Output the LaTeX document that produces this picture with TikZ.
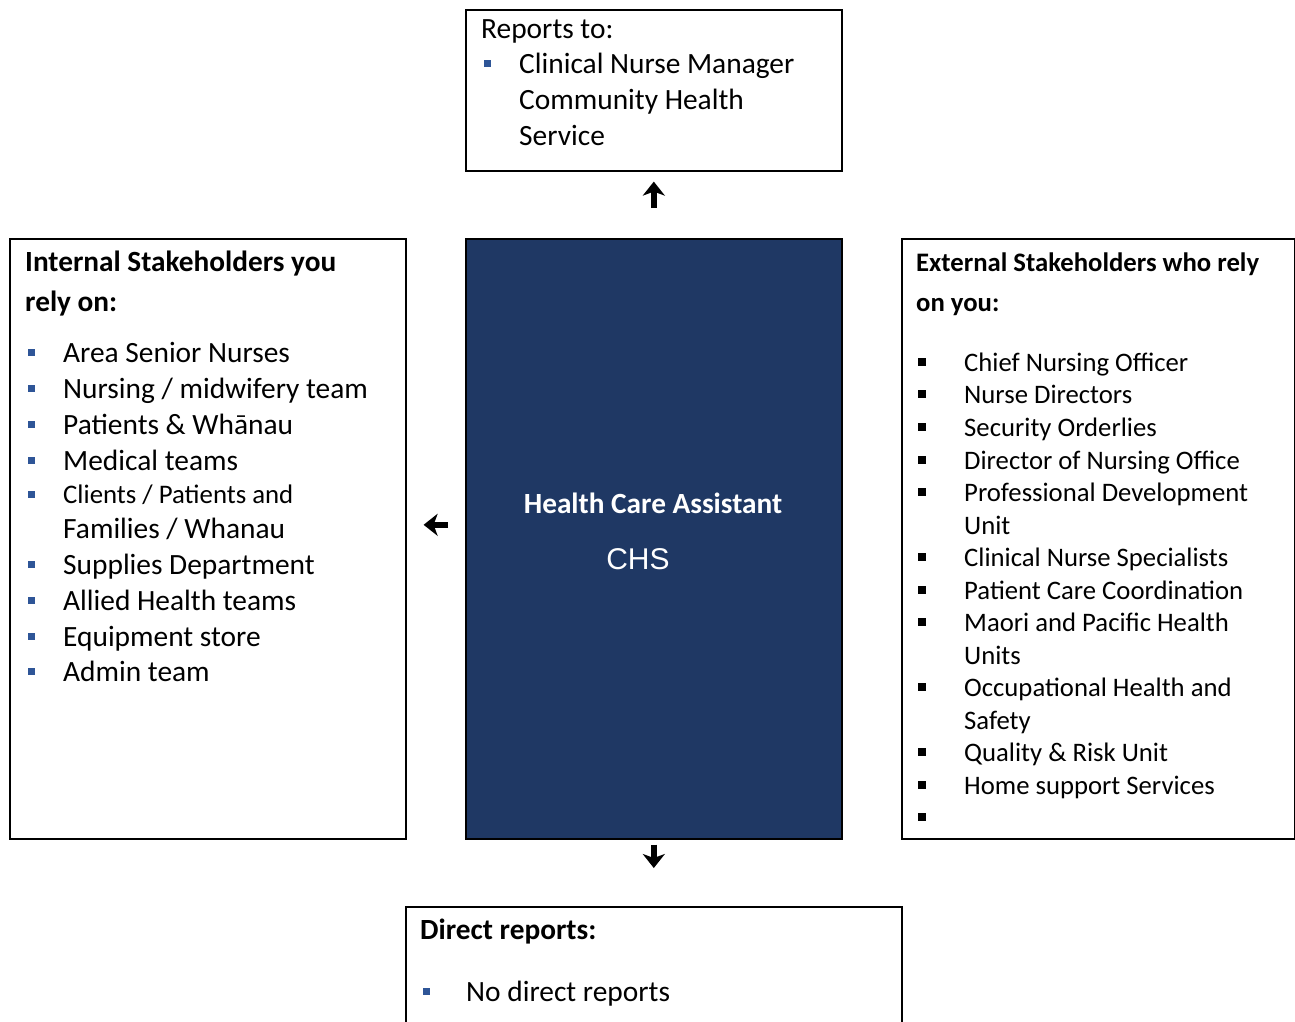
\documentclass[tikz,border=0pt]{standalone}
\usepackage{fontspec}
\setmainfont{Carlito}
\newfontfamily\arialf{Liberation Sans}
\usetikzlibrary{arrows.meta}
\definecolor{navy}{HTML}{1F3864}
\definecolor{bblue}{HTML}{2E5597}
\tikzset{
  box/.style={draw=black, line width=1.6pt, anchor=north west, inner sep=0pt},
  txt/.style={anchor=base west, inner sep=0pt, text=black},
  big/.style={font=\fontsize{29.4}{34}\selectfont},
  mid/.style={font=\fontsize{26.7}{31}\selectfont},
  sml/.style={font=\fontsize{26.8}{31}\selectfont},
  hbold/.style={font=\bfseries\fontsize{29.3}{34}\selectfont},
  bbul/.style={fill=bblue, minimum size=7pt, inner sep=0pt, draw=none},
  kbul/.style={fill=black, minimum size=8pt, inner sep=0pt, draw=none},
  arr/.style={line width=6pt, -{Stealth[width=22pt,length=14pt,inset=4pt]}}
}
\begin{document}
\begin{tikzpicture}[x=1pt,y=-1pt]
\useasboundingbox (0,0) rectangle (1295,1021);
% boxes
\node[box, minimum width=376pt, minimum height=161pt] (rep) at (465,9) {};
\node[box, minimum width=396pt, minimum height=600pt] (int) at (9,238) {};
\node[box, fill=navy, minimum width=376pt, minimum height=600pt] (hca) at (465,238) {};
\node[box, minimum width=393pt, minimum height=600pt] (ext) at (901,238) {};
\node[box, minimum width=496pt, minimum height=130pt] (dir) at (405,906) {};

% connectors
\draw[arr, shorten <=30pt, shorten >=10pt] (hca.north) -- (rep.south);
\draw[arr, shorten <=17pt, shorten >=17pt] ([yshift=14pt]hca.west) -- ([yshift=14pt]int.east);
\draw[arr, shorten <=5pt, shorten >=38pt] (hca.south) -- (dir.north);

% top box
\node[txt, big] (rt) at (481,38) {Reports to:};
\node[bbul] (rb1) at (487,63) {};
\node[txt, big] (r1) at (519,73) {Clinical Nurse Manager};
\node[txt, big] (r2) at (519,109) {Community Health};
\node[txt, big] (r3) at (519,145) {Service};

% center
\node[anchor=base, inner sep=0pt, text=white, hbold] (hct) at (653,513) {Health Care Assistant};
\node[anchor=base, inner sep=0pt, text=white, font=\arialf\fontsize{30}{34}\selectfont] (chs) at (638,569) {CHS};

% left box
\node[txt, hbold] (ih1) at (25,271) {Internal Stakeholders you};
\node[txt, hbold] (ih2) at (25,311) {rely on:};
\foreach \n/\y/\t in {1/362/{Area Senior Nurses}, 2/398/{Nursing / midwifery team}, 3/434/{Patients \& Whānau}, 4/470/{Medical teams}, 6/574/{Supplies Department}, 7/610/{Allied Health teams}, 8/646/{Equipment store}, 9/681/{Admin team}}{
  \node[bbul] (ib\n) at (31,\y-10) {};
  \node[txt, big] (il\n) at (63,\y) {\t};
}
\node[bbul] (ib5) at (31,494) {};
\node[txt, sml] (il5) at (63,503) {Clients / Patients and};
\node[txt, big] (il5b) at (63,538) {Families / Whanau};

% right box
\node[txt, font=\bfseries\fontsize{26.7}{31}\selectfont] (eh1) at (916,271) {External Stakeholders who rely};
\node[txt, font=\bfseries\fontsize{26.7}{31}\selectfont] (eh2) at (916,311) {on you:};
\foreach \n/\y/\t in {1/371/{Chief Nursing Officer}, 2/403/{Nurse Directors}, 3/436/{Security Orderlies}, 4/469/{Director of Nursing Office}, 5/501/{Professional Development}, 7/566/{Clinical Nurse Specialists}, 8/599/{Patient Care Coordination}, 9/631/{Maori and Pacific Health}, 11/696/{Occupational Health and}, 13/761/{Quality \& Risk Unit}, 14/794/{Home support Services}}{
  \node[kbul] (eb\n) at (922,\y-9) {};
  \node[txt, mid] (el\n) at (964,\y) {\t};
}
\node[txt, mid] (el6) at (964,534) {Unit};
\node[txt, mid] (el10) at (964,664) {Units};
\node[txt, mid] (el12) at (964,729) {Safety};
\node[kbul] (eb15) at (922,817) {};

% bottom box
\node[txt, hbold] (dt) at (420,939) {Direct reports:};
\node[bbul] (db1) at (426,991) {};
\node[txt, big] (d1) at (466,1001) {No direct reports};
\end{tikzpicture}
\end{document}
